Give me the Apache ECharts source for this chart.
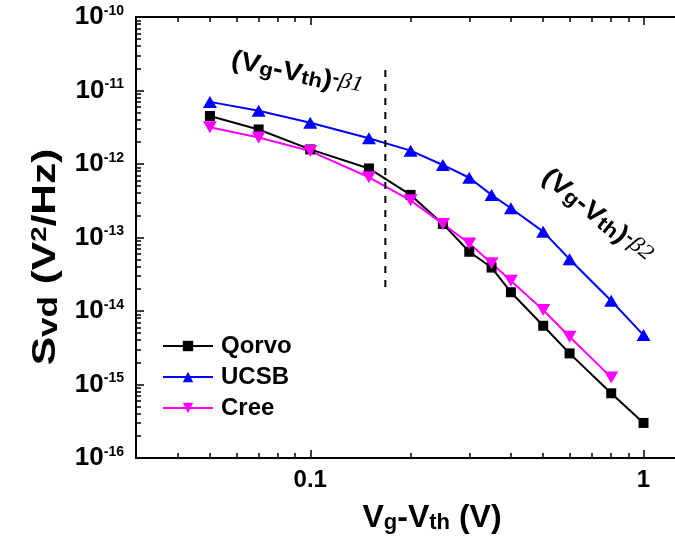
<!DOCTYPE html>
<html>
<head>
<meta charset="utf-8">
<script src="https://cdn.jsdelivr.net/npm/echarts@6/dist/echarts.min.js"></script>
<style>
  html, body { margin: 0; padding: 0; background: #fff; }
  #chart { width: 675px; height: 544px; }
</style>
</head>
<body>
<div id="chart"></div>
<script>
// Gate overdrive (V) at which the noise spectra were taken
const vgVth = [0.05, 0.07, 0.1, 0.15, 0.2, 0.25, 0.3, 0.35, 0.4, 0.5, 0.6, 0.8, 1.0];
const vgVthCree = [0.05, 0.07, 0.1, 0.15, 0.2, 0.25, 0.3, 0.35, 0.4, 0.5, 0.6, 0.8];

// Drain voltage noise spectral density S_vd (V^2/Hz)
const qorvo = [4.5e-12, 2.95e-12, 1.58e-12, 8.7e-13, 3.8e-13, 1.53e-13, 6.4e-14, 3.9e-14, 1.8e-14, 6.3e-15, 2.65e-15, 7.6e-16, 3.0e-16];
const ucsb  = [7.0e-12, 5.3e-12, 3.65e-12, 2.24e-12, 1.52e-12, 9.7e-13, 6.5e-13, 3.8e-13, 2.5e-13, 1.2e-13, 5.05e-14, 1.38e-14, 4.7e-15];
const cree  = [3.16e-12, 2.3e-12, 1.5e-12, 6.6e-13, 3.2e-13, 1.53e-13, 8.3e-14, 4.46e-14, 2.58e-14, 1.03e-14, 4.47e-15, 1.25e-15];

// Boundary between the two power-law regimes
const regimeX = [0.168, 0.168];
const regimeY = [1.9e-11, 1.8e-14];

// Axis ticks
const xMajorTicks = [0.1, 1];
const xTickLabels = ['0.1', '1'];
const yTickExps = [-16, -15, -14, -13, -12, -11, -10];

const xRange = [0.03, 1.243];
const yRange = [1e-16, 1e-10];

const FONT = '"Liberation Sans", Arial, sans-serif';
const SERIF = '"Liberation Serif", "Times New Roman", serif';

const yMajorTicks = yTickExps.map(e => Math.pow(10, e));
// Log-style minor ticks: 2..9 within each decade
function minorTicks(lo, hi) {
  const out = [];
  for (let d = Math.floor(Math.log10(lo)); d < Math.ceil(Math.log10(hi)); d++) {
    for (let k = 2; k <= 9; k++) {
      const v = +(k * Math.pow(10, d)).toPrecision(6);
      if (v > lo && v < hi) out.push(v);
    }
  }
  return out;
}
const xMinorTicks = minorTicks(xRange[0], xRange[1]);
const yMinorTicks = minorTicks(yRange[0], yRange[1]);

const zip = (xs, ys) => xs.map((x, i) => [x, ys[i]]);

function xAxisDef(position, major, showLine) {
  return {
    type: 'log', logBase: 10, position: position, min: xRange[0], max: xRange[1],
    axisLine: { show: showLine, onZero: false, lineStyle: { color: '#000', width: 2 } },
    axisTick: { show: true, inside: true, length: major ? 8 : 5,
      customValues: major ? xMajorTicks : xMinorTicks,
      lineStyle: { color: '#000', width: 1.5 } },
    axisLabel: { show: major && position === 'bottom', customValues: xMajorTicks,
      margin: 10,
      formatter: v => { const i = xMajorTicks.findIndex(t => Math.abs(t - v) < 1e-9); return i >= 0 ? xTickLabels[i] : ''; },
      color: '#000', fontSize: 24, fontWeight: 'bold', fontFamily: FONT },
    splitLine: { show: false }, minorTick: { show: false }
  };
}
function yAxisDef(major) {
  return {
    type: 'log', logBase: 10, position: 'left', min: yRange[0], max: yRange[1],
    axisLine: { show: major, onZero: false, lineStyle: { color: '#000', width: 2 } },
    axisTick: { show: true, inside: true, length: major ? 8 : 5,
      customValues: major ? yMajorTicks : yMinorTicks,
      lineStyle: { color: '#000', width: 1.5 } },
    axisLabel: { show: major, customValues: yMajorTicks, margin: 12,
      formatter: v => '{b|10}{s|' + Math.round(Math.log10(v)) + '}',
      rich: {
        b: { fontSize: 26, fontWeight: 'bold', fontFamily: FONT, color: '#000', lineHeight: 26 },
        s: { fontSize: 14, fontWeight: 'bold', fontFamily: FONT, color: '#000', lineHeight: 14, verticalAlign: 'top' }
      } },
    splitLine: { show: false }, minorTick: { show: false }
  };
}

const chart = echarts.init(document.getElementById('chart'), null, { renderer: 'canvas' });

const richTitle = (big, sub, sup) => ({
  n:   { fontSize: big, fontWeight: 'bold', fontFamily: FONT, fill: '#000', lineHeight: big },
  sub: { fontSize: sub, fontWeight: 'bold', fontFamily: FONT, fill: '#000', lineHeight: sub, verticalAlign: 'bottom' },
  sup: { fontSize: sup, fontWeight: 'bold', fontFamily: FONT, fill: '#000', lineHeight: sup, verticalAlign: 'top' },
  gr:  { fontSize: sup + 4, fontStyle: 'italic', fontFamily: SERIF, fill: '#000', lineHeight: sup + 4, verticalAlign: 'top' }
});

chart.setOption({
  animation: false,
  backgroundColor: '#fff',
  grid: { left: 136, top: 17, width: 539, height: 441, containLabel: false },
  xAxis: [
    xAxisDef('bottom', true, true),
    xAxisDef('bottom', false, false),
    xAxisDef('top', true, true),
    xAxisDef('top', false, false)
  ],
  yAxis: [yAxisDef(true), yAxisDef(false)],
  legend: {
    orient: 'vertical', left: 162, top: 334, padding: 0, itemWidth: 50, itemHeight: 13, itemGap: 7,
    data: ['Qorvo', 'UCSB', 'Cree'],
    textStyle: { fontSize: 24, fontWeight: 'bold', fontFamily: FONT, color: '#000', padding: [0, 0, 0, 3] }
  },
  series: [
    { name: 'Qorvo', type: 'line', data: zip(vgVth, qorvo), symbol: 'rect', symbolSize: 10,
      lineStyle: { color: '#000', width: 2 }, itemStyle: { color: '#000' } },
    { name: 'UCSB', type: 'line', data: zip(vgVth, ucsb), symbol: 'triangle', symbolSize: [14, 12],
      lineStyle: { color: '#0000ff', width: 2 }, itemStyle: { color: '#0000ff' } },
    { name: 'Cree', type: 'line', data: zip(vgVthCree, cree), symbol: 'triangle', symbolRotate: 180, symbolSize: [14, 12],
      lineStyle: { color: '#ff00ff', width: 2 }, itemStyle: { color: '#ff00ff' } },
    { name: 'regime', type: 'line', data: zip(regimeX, regimeY), symbol: 'none', silent: true,
      lineStyle: { color: '#000', width: 2, type: [7, 7] } }
  ],
  graphic: [
    { type: 'text', x: 46, y: 257, rotation: Math.PI / 2, scaleX: 1.25,
      style: { text: '{n|S}{sub|vd}{n| (V}{sup|2}{n|/Hz)}', align: 'center', verticalAlign: 'middle',
        textAlign: 'center', textVerticalAlign: 'middle',
        rich: richTitle(34, 28, 22) } },
    { type: 'text', x: 432, y: 518,
      style: { text: '{n|V}{sub|g}{n|-V}{sub|th}{n| (V)}', align: 'center', verticalAlign: 'middle',
        textAlign: 'center', textVerticalAlign: 'middle',
        rich: richTitle(32, 22, 20) } },
    { type: 'text', x: 297, y: 74, rotation: -12 * Math.PI / 180, scaleX: 1.12,
      style: { text: '{n|(V}{sub|g}{n|-V}{sub|th}{n|)}{sup|-}{gr|β1}', align: 'center', verticalAlign: 'middle',
        textAlign: 'center', textVerticalAlign: 'middle',
        rich: richTitle(26, 20, 18) } },
    { type: 'text', x: 597, y: 216, rotation: -39 * Math.PI / 180, scaleX: 1.12,
      style: { text: '{n|(V}{sub|g}{n|-V}{sub|th}{n|)}{sup|-}{gr|β2}', align: 'center', verticalAlign: 'middle',
        textAlign: 'center', textVerticalAlign: 'middle',
        rich: richTitle(26, 20, 18) } }
  ]
});
</script>
</body>
</html>
